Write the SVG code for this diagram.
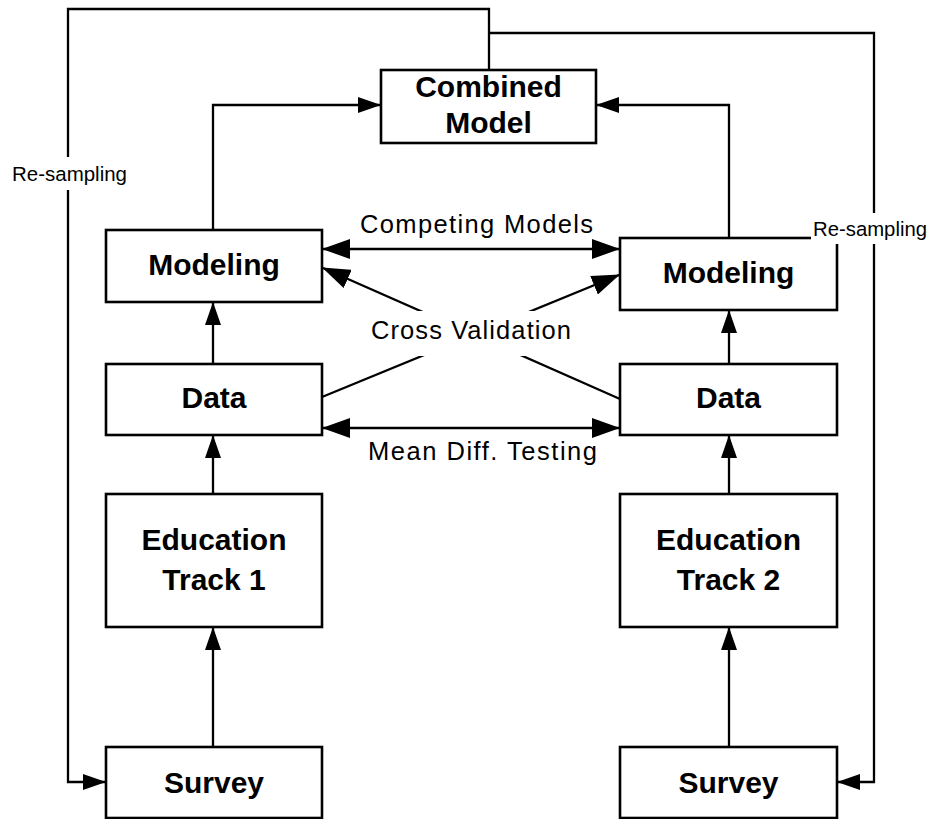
<svg xmlns="http://www.w3.org/2000/svg" width="931" height="819" viewBox="0 0 931 819">
  <style>
    .box { fill: #ffffff; stroke: #000000; stroke-width: 2.6; }
    .title { font-family: "Liberation Sans", Arial, sans-serif; font-weight: bold; font-size: 30px; fill: #000000; text-anchor: middle; }
    .label { font-family: "Liberation Sans", Arial, sans-serif; font-size: 25.5px; fill: #000000; }
    .side { font-family: "Liberation Sans", Arial, sans-serif; font-size: 20.5px; fill: #000000; }
    .wire { fill: none; stroke: #000000; stroke-width: 2.3; }
    .bg { fill: #ffffff; stroke: none; }
  </style>
  <defs>
    <marker id="arrowSmall" markerUnits="userSpaceOnUse" markerWidth="23" markerHeight="16" refX="22" refY="8" orient="auto-start-reverse">
      <path d="M0,0 L23,8 L0,16 z" fill="#000000"/>
    </marker>
    <marker id="arrowLarge" markerUnits="userSpaceOnUse" markerWidth="28" markerHeight="20" refX="27" refY="10" orient="auto-start-reverse">
      <path d="M0,0 L28,10 L0,20 z" fill="#000000"/>
    </marker>
  </defs>

  <!-- connectors -->
  <g id="connectors">
    <!-- modeling results feed the combined model -->
    <path class="wire" d="M213,230 V105 H380" marker-end="url(#arrowSmall)"/>
    <path class="wire" d="M729,238 V105 H597" marker-end="url(#arrowSmall)"/>
    <!-- re-sampling loops back to the surveys -->
    <path class="wire" d="M489,70 V9 H68 V782 H105" marker-end="url(#arrowSmall)"/>
    <path class="wire" d="M489,33 H874 V782 H838" marker-end="url(#arrowSmall)"/>
    <!-- vertical pipeline, left track -->
    <path class="wire" d="M213,747 V628" marker-end="url(#arrowSmall)"/>
    <path class="wire" d="M213,494 V436" marker-end="url(#arrowSmall)"/>
    <path class="wire" d="M213,364 V303" marker-end="url(#arrowSmall)"/>
    <!-- vertical pipeline, right track -->
    <path class="wire" d="M729,747 V628" marker-end="url(#arrowSmall)"/>
    <path class="wire" d="M729,494 V436" marker-end="url(#arrowSmall)"/>
    <path class="wire" d="M729,364 V311" marker-end="url(#arrowSmall)"/>
    <!-- comparisons between the two tracks -->
    <path class="wire" d="M323,249 H619" marker-start="url(#arrowLarge)" marker-end="url(#arrowLarge)"/>
    <path class="wire" d="M323,428 H619" marker-start="url(#arrowLarge)" marker-end="url(#arrowLarge)"/>
    <path class="wire" d="M322,397 L619,275" marker-end="url(#arrowLarge)"/>
    <path class="wire" d="M620,399 L323,268" marker-end="url(#arrowLarge)"/>
  </g>

  <!-- connector labels -->
  <g id="labels">
    <text class="label" x="360" y="233" textLength="233" lengthAdjust="spacing">Competing Models</text>
    <rect class="bg" x="366" y="311" width="212" height="45"/>
    <text class="label" x="371" y="339" textLength="200" lengthAdjust="spacing">Cross Validation</text>
    <text class="label" x="368" y="460" textLength="229" lengthAdjust="spacing">Mean Diff. Testing</text>
    <rect class="bg" x="8" y="157" width="124" height="33"/>
    <text class="side" x="12" y="181" textLength="115" lengthAdjust="spacingAndGlyphs">Re-sampling</text>
  </g>

  <!-- nodes -->
  <g id="combined-model">
    <rect class="box" x="381" y="70" width="215" height="73"/>
    <text class="title" x="488.5" y="97">Combined</text>
    <text class="title" x="488.5" y="133">Model</text>
  </g>

  <g id="modeling-1">
    <rect class="box" x="106" y="230" width="216" height="72"/>
    <text class="title" x="214" y="275">Modeling</text>
  </g>
  <g id="data-1">
    <rect class="box" x="106" y="364" width="216" height="71"/>
    <text class="title" x="214" y="408">Data</text>
  </g>
  <g id="education-track-1">
    <rect class="box" x="106" y="494" width="216" height="133"/>
    <text class="title" x="214" y="550">Education</text>
    <text class="title" x="214" y="590">Track 1</text>
  </g>
  <g id="survey-1">
    <rect class="box" x="106" y="747" width="216" height="71"/>
    <text class="title" x="214" y="793">Survey</text>
  </g>

  <g id="modeling-2">
    <rect class="box" x="620" y="238" width="217" height="72"/>
    <text class="title" x="728.5" y="283">Modeling</text>
  </g>
  <g id="data-2">
    <rect class="box" x="620" y="364" width="217" height="71"/>
    <text class="title" x="728.5" y="408">Data</text>
  </g>
  <g id="education-track-2">
    <rect class="box" x="620" y="494" width="217" height="133"/>
    <text class="title" x="728.5" y="550">Education</text>
    <text class="title" x="728.5" y="590">Track 2</text>
  </g>
  <g id="survey-2">
    <rect class="box" x="620" y="747" width="217" height="71"/>
    <text class="title" x="728.5" y="793">Survey</text>
  </g>

  <!-- right re-sampling label sits over the modeling corner -->
  <g id="resampling-right">
    <rect class="bg" x="811" y="213" width="120" height="31"/>
    <text class="side" x="813" y="236" textLength="114" lengthAdjust="spacingAndGlyphs">Re-sampling</text>
  </g>
</svg>
